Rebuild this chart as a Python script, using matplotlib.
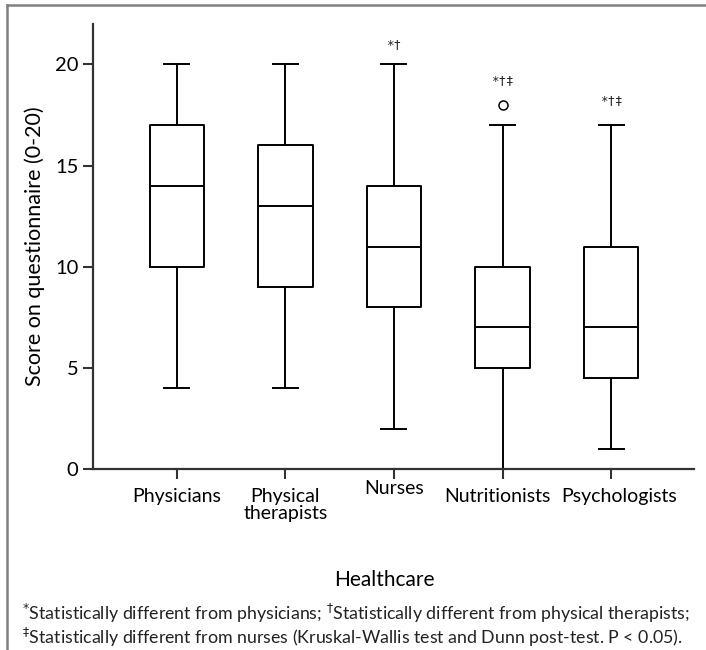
import numpy as np
import matplotlib
matplotlib.use("Agg")
import matplotlib.pyplot as plt
from matplotlib.lines import Line2D
from matplotlib.transforms import ScaledTranslation

plt.rcParams['font.family'] = ['Lato', 'DejaVu Sans']
plt.rcParams['mathtext.fontset'] = 'dejavusans'

# Box plot summaries
groups = ['Physicians', 'Physical\ntherapists', 'Nurses', 'Nutritionists', 'Psychologists']
whisker_lo = [4, 4, 2, 0, 1]
q1 = [10, 9, 8, 5, 4.5]
median = [14, 13, 11, 7, 7]
q3 = [17, 16, 14, 10, 11]
whisker_hi = [20, 20, 20, 17, 17]
outliers = [[], [], [], [18], []]
marks = ['', '', '*†', '*†‡', '*†‡']
mark_y = [0, 0, 21.0, 19.2, 18.2]

stats = []
for i in range(len(groups)):
    stats.append(dict(whislo=whisker_lo[i], q1=q1[i], med=median[i], q3=q3[i],
                      whishi=whisker_hi[i], fliers=outliers[i]))

fig = plt.figure(figsize=(7.06, 6.5), dpi=100)
ax = fig.add_axes([0.1317, 0.2785, 0.983 - 0.1317, 0.963 - 0.2785])

pos = np.arange(1, len(groups) + 1)
line_kw = dict(color='black', linewidth=1.4)
ax.bxp(stats, positions=pos, widths=0.5, showfliers=True,
       boxprops=line_kw, whiskerprops=line_kw, capprops=line_kw,
       medianprops=line_kw, capwidths=0.23,
       flierprops=dict(marker='o', markersize=6.5, markerfacecolor='none',
                       markeredgecolor='black', markeredgewidth=1.1))

for p, m, yy in zip(pos, marks, mark_y):
    if m:
        ax.text(p, yy, m, ha='center', va='center', fontsize=9,
                family='DejaVu Sans Mono', color='#222222')

ax.set_xlim(0.227, 5.764)
ax.set_ylim(0, 22)
ax.set_yticks([0, 5, 10, 15, 20])
ax.set_xticks(pos)
ax.set_xticklabels(groups, fontsize=14, linespacing=1.0)
ax.tick_params(axis='y', labelsize=14.5, length=7, width=1.5, color='#333333')
ax.tick_params(axis='x', length=7, width=1.5, color='#333333', pad=7)
labels = ax.get_xticklabels()
for lab in labels:
    lab.set_verticalalignment('top')
labels[2].set_y(0.02)
# nudge the last two labels apart so they do not touch
labels[3].set_transform(labels[3].get_transform() + ScaledTranslation(-5 / 100, 0, fig.dpi_scale_trans))
labels[4].set_transform(labels[4].get_transform() + ScaledTranslation(8 / 100, 0, fig.dpi_scale_trans))

for s in ['top', 'right']:
    ax.spines[s].set_visible(False)
for s in ['left', 'bottom']:
    ax.spines[s].set_linewidth(1.6)
    ax.spines[s].set_color('#333333')

ax.set_ylabel('Score on questionnaire (0-20)', fontsize=15.5, labelpad=7)

fig.text(384 / 706, 1 - 580 / 650, 'Healthcare', ha='center', va='center', fontsize=15)

note1 = (r"$^{*}$Statistically different from physicians; "
         r"$^{\dagger}$Statistically different from physical therapists;")
note2 = (r"$^{\ddagger}$Statistically different from nurses "
         r"(Kruskal-Wallis test and Dunn post-test. P < 0.05).")
fig.text(22 / 706, 1 - 613 / 650, note1, ha='left', va='center', fontsize=12.8, color='#222222')
fig.text(22 / 706, 1 - 637 / 650, note2, ha='left', va='center', fontsize=12.8, color='#222222')

# frame around the figure (left and top edges visible)
fig.add_artist(Line2D([7 / 706, 7 / 706], [0, 1 - 5 / 650], transform=fig.transFigure,
                      color='#808080', linewidth=1.8))
fig.add_artist(Line2D([7 / 706, 1], [1 - 5 / 650, 1 - 5 / 650], transform=fig.transFigure,
                      color='#808080', linewidth=1.8))

fig.savefig('out.png', dpi=100)
